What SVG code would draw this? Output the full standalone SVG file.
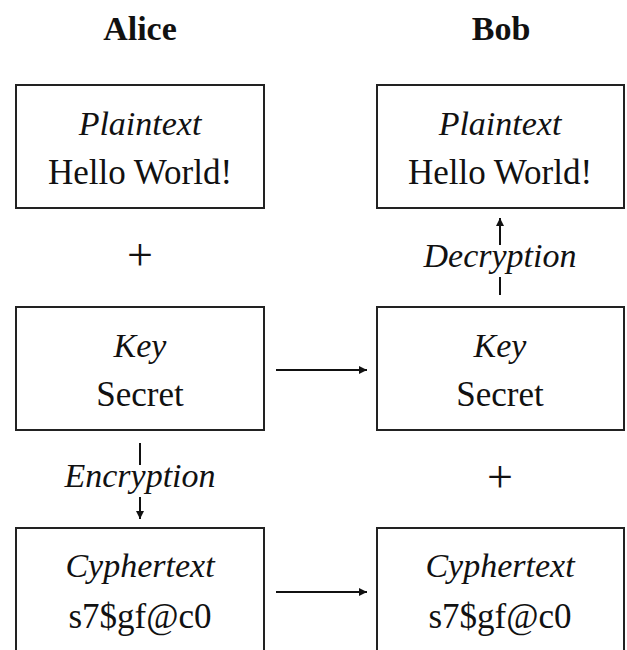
<svg xmlns="http://www.w3.org/2000/svg" width="627" height="650" viewBox="0 0 627 650">
<defs>
<style>
.box{fill:#fff;stroke:#222;stroke-width:2}
.t{font-family:"Liberation Serif","Times New Roman",serif;font-size:35px;fill:#111;text-anchor:middle}
.i{font-style:italic;font-size:34px}
.b{font-weight:bold;font-size:34px}
.p{font-size:46px}
.c{stroke:#111;stroke-width:2;fill:none}
</style>
<marker id="ah" viewBox="0 0 10 10" refX="10" refY="5" markerWidth="10" markerHeight="8" markerUnits="userSpaceOnUse" orient="auto">
<path d="M0,0 L10,5 L0,10 z" fill="#111"/>
</marker>
</defs>
<rect width="627" height="650" fill="#fff"/>
<g id="alice-title"><text class="t b" x="140" y="40">Alice</text></g>
<g id="bob-title"><text class="t b" x="501" y="40">Bob</text></g>

<g id="alice-plain">
<rect class="box" x="16" y="85" width="248" height="123"/>
<text class="t i" x="140" y="135">Plaintext</text>
<text class="t" x="140" y="184">Hello World!</text>
</g>
<g id="bob-plain">
<rect class="box" x="377" y="85" width="247" height="123"/>
<text class="t i" x="500" y="135">Plaintext</text>
<text class="t" x="500" y="184">Hello World!</text>
</g>
<g id="alice-key">
<rect class="box" x="16" y="307" width="248" height="123"/>
<text class="t i" x="140" y="357">Key</text>
<text class="t" x="140" y="406">Secret</text>
</g>
<g id="bob-key">
<rect class="box" x="377" y="307" width="247" height="123"/>
<text class="t i" x="500" y="357">Key</text>
<text class="t" x="500" y="406">Secret</text>
</g>
<g id="alice-cypher">
<rect class="box" x="16" y="528" width="248" height="126"/>
<text class="t i" x="140" y="577">Cyphertext</text>
<text class="t" x="140" y="628">s7$gf@c0</text>
</g>
<g id="bob-cypher">
<rect class="box" x="377" y="528" width="247" height="126"/>
<text class="t i" x="500" y="577">Cyphertext</text>
<text class="t" x="500" y="628">s7$gf@c0</text>
</g>
<g id="plus-alice"><text class="t p" x="140" y="270">+</text></g>
<g id="plus-bob"><text class="t p" x="500" y="492">+</text></g>

<g id="connectors">
<line class="c" x1="276" y1="370" x2="367" y2="370" marker-end="url(#ah)"/>
<line class="c" x1="276" y1="592" x2="367" y2="592" marker-end="url(#ah)"/>
<line class="c" x1="500" y1="295" x2="500" y2="277"/>
<line class="c" x1="500" y1="245" x2="500" y2="218" marker-end="url(#ah)"/>
<text class="t i" x="500" y="267">Decryption</text>
<line class="c" x1="140" y1="443" x2="140" y2="465"/>
<line class="c" x1="140" y1="497" x2="140" y2="519" marker-end="url(#ah)"/>
<text class="t i" x="140" y="487">Encryption</text>
</g>
</svg>
